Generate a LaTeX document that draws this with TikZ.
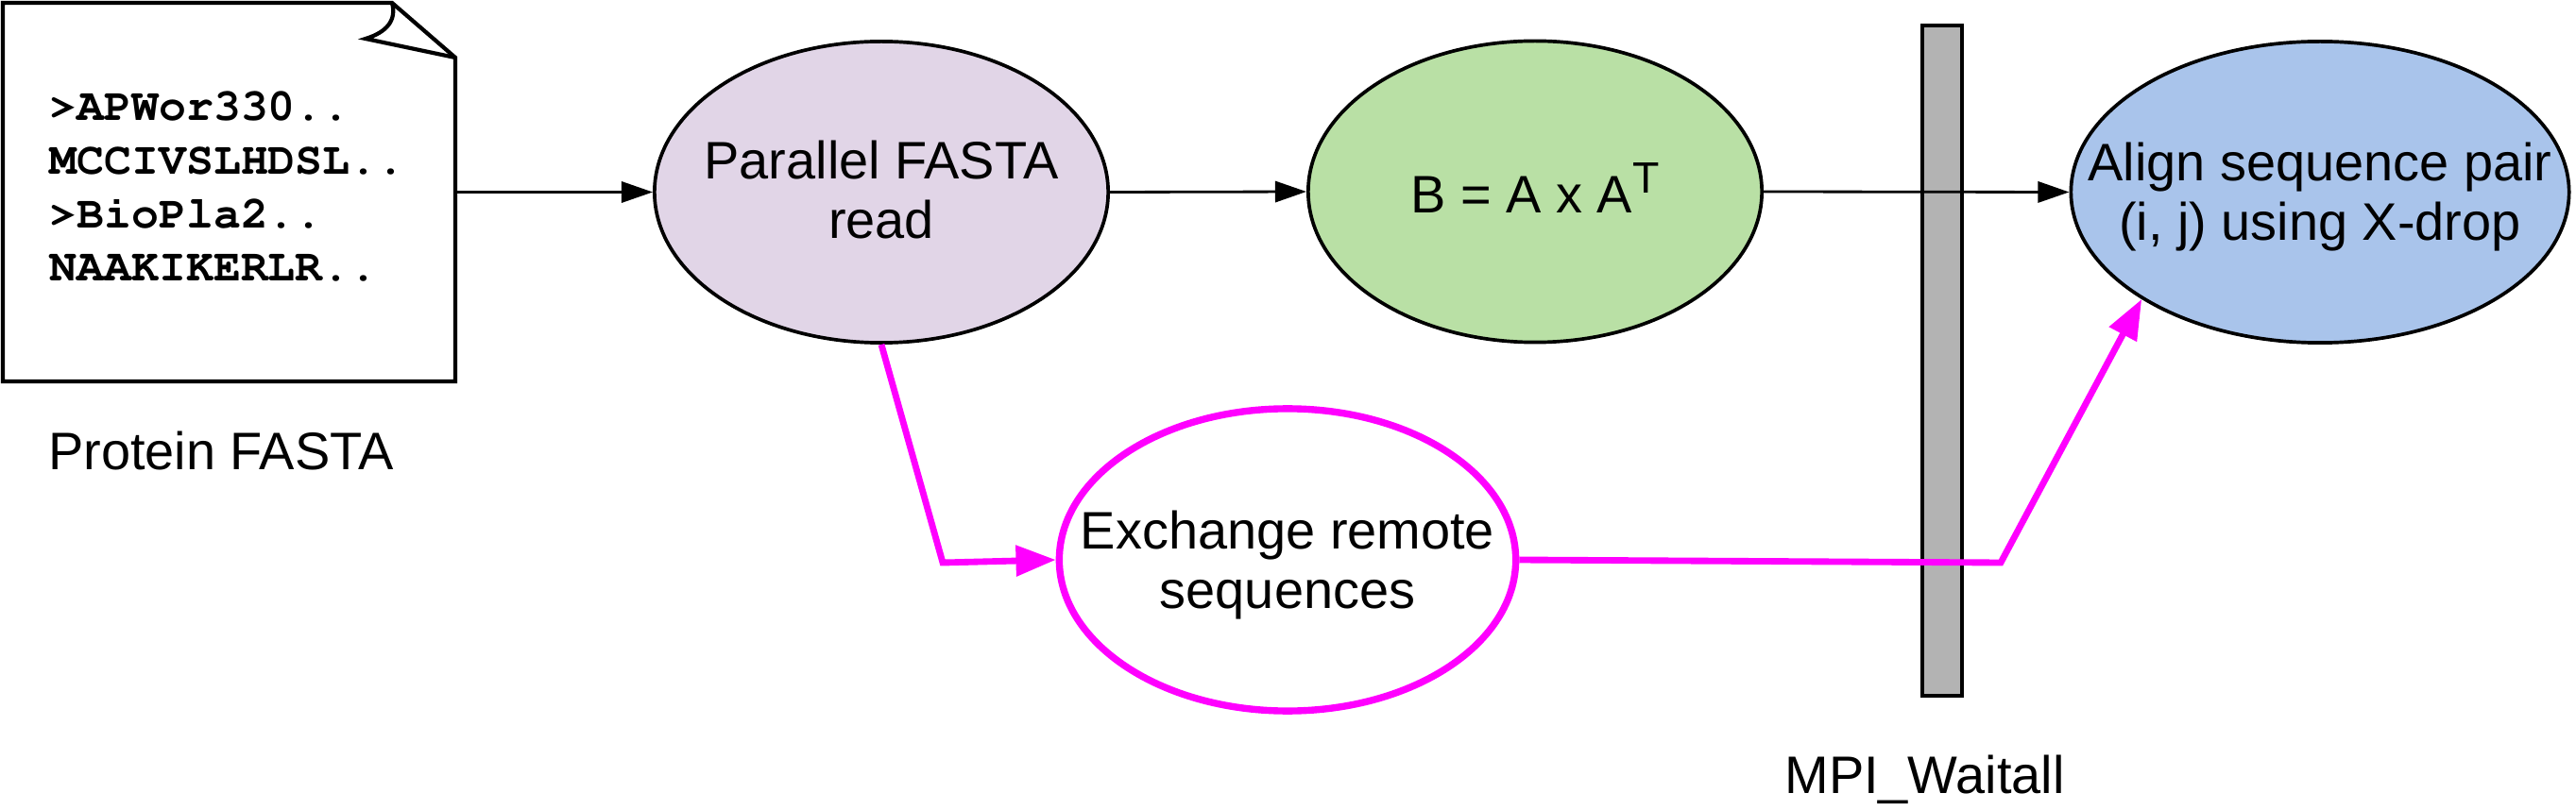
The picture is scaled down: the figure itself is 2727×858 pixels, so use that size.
\documentclass[tikz,border=0pt]{standalone}
\usepackage[T1]{fontenc}
\usepackage{fontspec}
\setmainfont{Liberation Sans}
\usetikzlibrary{shapes.geometric,arrows.meta}
\definecolor{lav}{HTML}{E1D5E7}
\definecolor{grn}{HTML}{B9E0A5}
\definecolor{blu}{HTML}{A9C4EB}
\definecolor{barg}{HTML}{B3B3B3}
\definecolor{mag}{HTML}{FF00FF}
\newcommand{\ctext}[2]{\makebox[0pt]{\smash{\raisebox{#1}{\begin{tabular}[t]{@{}c@{}}#2\end{tabular}}}}}
\newcommand{\courb}{\fontencoding{T1}\fontfamily{pcr}\fontseries{b}\fontsize{13.7pt}{16pt}\selectfont}
\begin{document}
\begin{tikzpicture}[x=0.01cm,y=-0.01cm,
  txt/.style={font=\fontsize{15.9pt}{17.9pt}\selectfont},
  proc/.style={ellipse, draw=black, line width=1.05pt, inner sep=0pt, txt},
  conn/.style={line width=0.8pt, -{Triangle[length=9.4pt,width=6.3pt]}},
  mconn/.style={draw=mag, line width=1.95pt, -{Triangle[length=12pt,width=9pt]}},
  seq/.style={anchor=base west, inner sep=0pt, font=\courb},
]
\useasboundingbox (0,0) rectangle (2727,858);

% document shape
\draw[line width=1.2pt, fill=white] (3,3) -- (415,3) -- (482,61) -- (482,404) -- (3,404) -- cycle;
\draw[line width=1.2pt] (415,3) .. controls (420,21) and (410,34) .. (387,41) -- (482,61);
\node[rectangle, minimum width=4.79cm, minimum height=4.01cm, inner sep=0pt] (doc) at (242.5,203.5) {};
\node[seq] (s1) at (52,128) {>APWor330..};
\node[seq] (s2) at (52,185) {MCCIVSLHDSL..};
\node[seq] (s3) at (52,242) {>BioPla2..};
\node[seq] (s4) at (52,298) {NAAKIKERLR..};
\node[txt, anchor=base, inner sep=0pt] (cap) at (234,498) {Protein FASTA};

% processes
\node[proc, fill=lav, minimum width=4.80cm, minimum height=3.19cm] (par) at (933,203.5)
  {\ctext{3.84pt}{Parallel FASTA\\read}};
\node[proc, fill=grn, minimum width=4.80cm, minimum height=3.19cm] (mul) at (1625,203)
  {\ctext{-6.26pt}{B = A x A\raisebox{5.7pt}{\fontsize{13.2pt}{13.2pt}\selectfont T}}};
\node[proc, fill=blu, minimum width=5.27cm, minimum height=3.19cm] (aln) at (2456,203.5)
  {\ctext{3.27pt}{Align sequence pair\\(i, j) using X-drop}};
\node[proc, draw=mag, line width=2.1pt, fill=white, minimum width=4.83cm, minimum height=3.20cm] (exch) at (1363,593)
  {\ctext{3.13pt}{Exchange remote\\sequences}};

% barrier
\node[draw, line width=1.2pt, fill=barg, minimum width=0.42cm, minimum height=7.10cm, inner sep=0pt] (bar) at (2056,382) {};
\node[txt, anchor=base, inner sep=0pt] (mpi) at (2037.5,840) {MPI\_Waitall};

% connectors
\draw[conn] (doc.east) -- (par.west);
\draw[conn] (par.east) -- (mul.west);
\draw[conn] (mul.east) -- (aln.west);
\coordinate (c1) at (998,596);
\coordinate (c2) at (2118,596);
\draw[mconn] (par.south) -- (c1) -- (exch.west);
\draw[mconn] (exch.east) -- (c2) -- (aln.211);
\end{tikzpicture}
\end{document}
